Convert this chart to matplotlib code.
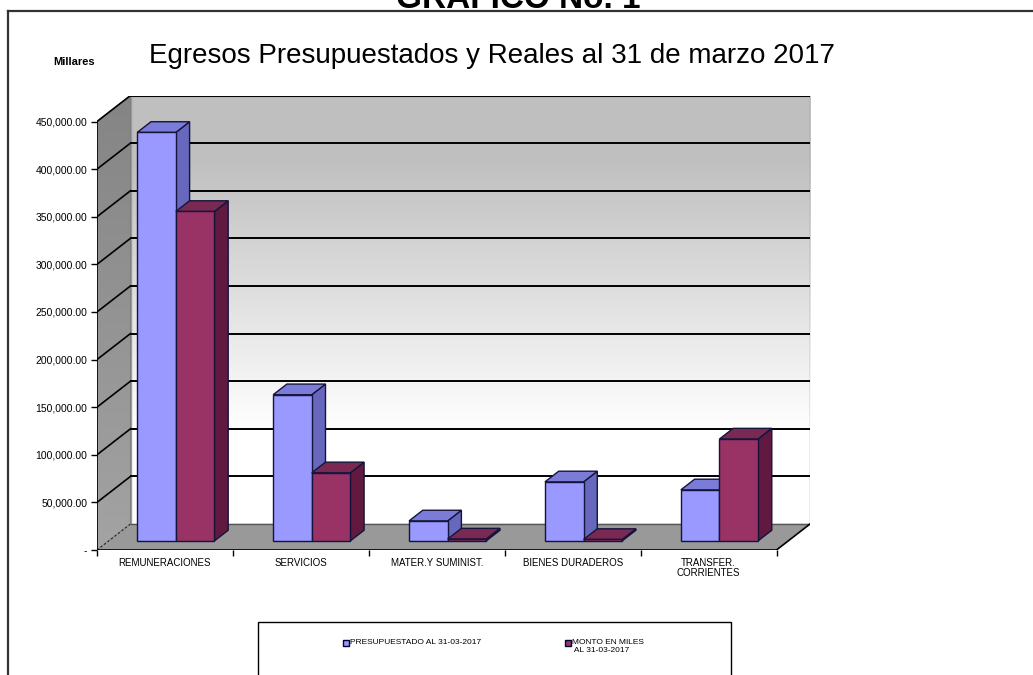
import numpy as np
import matplotlib
matplotlib.use('Agg')
import matplotlib.pyplot as plt
from matplotlib.patches import Polygon, Rectangle
from matplotlib.lines import Line2D

# ---------------- data ----------------
categories = ["REMUNERACIONES", "SERVICIOS", "MATER.Y SUMINIST.",
              "BIENES DURADEROS", "TRANSFER.\nCORRIENTES"]
presupuestado = [429000, 153500, 21000, 62000, 53600]
monto_real = [346000, 71500, 2000, 1500, 107000]
series_labels = ["PRESUPUESTADO AL 31-03-2017", "MONTO EN MILES\n AL 31-03-2017"]
y_ticks = list(range(0, 450001, 50000))
y_tick_labels = ["-" if v == 0 else f"{v:,.2f}" for v in y_ticks]
title = "Egresos Presupuestados y Reales al 31 de marzo 2017"
header = "GRAFICO No. 1"
unit_label = "Millares"

plt.rcParams['font.family'] = ['Liberation Sans', 'DejaVu Sans']

W, H = 1033, 675
fig = plt.figure(figsize=(W / 100, H / 100), dpi=100)
fig.patch.set_facecolor('white')

# geometry of the oblique 3D box (pixel based)
N = len(categories)
YMAX = y_ticks[-1]
px_cat = 135.9
px_val = 428.5 / YMAX
DX = 33.5 / px_cat
DY = 26.0 / px_val
ax = fig.add_axes([97 / W, 1 - 550 / H, (N * px_cat + 33.5) / W, (428.5 + 26) / H])
ax.set_xlim(0, N + DX)
ax.set_ylim(0, YMAX + DY)
for s in ax.spines.values():
    s.set_visible(False)
ax.set_facecolor('none')

# back wall gradient
t = np.linspace(0, 1, 256)
g = np.clip((t - 0.22) / (0.85 - 0.22), 0, 1)
shade = 1.0 - g * (1.0 - 0.75)
img = np.dstack([shade, shade, shade])[:, None, :].reshape(256, 1, 3)
ax.imshow(img, extent=[DX, N + DX, DY, YMAX + DY], origin='lower',
          aspect='auto', zorder=1, interpolation='bilinear')
ax.add_patch(Rectangle((DX, DY), N, YMAX, fill=False, ec='#9a9a9a', lw=1, zorder=1.5))

# left side wall
lw_poly = Polygon([(0, 0), (DX, DY), (DX, YMAX + DY), (0, YMAX)], closed=True,
                  fc='none', ec='#7a7a7a', lw=0.8, zorder=1.2)
ax.add_patch(lw_poly)
side_shade = np.linspace(0.64, 0.52, 256)
simg = np.dstack([side_shade] * 3).reshape(256, 1, 3)
im2 = ax.imshow(simg, extent=[0, DX, 0, YMAX + DY], origin='lower',
                aspect='auto', zorder=1.1, interpolation='bilinear')
im2.set_clip_path(lw_poly)

# floor
ax.add_patch(Polygon([(0, 0), (N, 0), (N + DX, DY), (DX, DY)], closed=True,
                     fc='#999999', ec='none', zorder=2))
ax.plot([DX, N + DX], [DY, DY], color='#555555', lw=1, zorder=2.1)
ax.plot([0, DX], [0, DY], color='#222222', lw=0.8, ls=(0, (2, 2)), zorder=2.2)

# gridlines on the walls
for v in y_ticks[1:]:
    ax.plot([0, DX], [v, v + DY], color='black', lw=1.2, zorder=1.6)
    ax.plot([DX, N + DX], [v + DY, v + DY], color='black', lw=1.4, zorder=1.6)

# axis lines
ax.plot([0, 0], [0, YMAX], color='black', lw=1.2, zorder=6)
ax.plot([0, N], [0, 0], color='black', lw=1.2, zorder=6)
ax.plot([N, N + DX], [0, DY], color='black', lw=1.2, zorder=6)

# bars
Z0, DZ = 0.35, 0.41
OFF, BW = 0.21, 0.284
edge = '#14143c'
styles = [('#9999ff', '#7b7bd8', '#6767bd'), ('#993366', '#7a2952', '#62193f')]
z = 3
for i in range(N):
    for k, vals in enumerate([presupuestado, monto_real]):
        v = vals[i]
        front_c, top_c, side_c = styles[k]
        fx = i + OFF + k * BW + Z0 * DX
        fy = Z0 * DY
        bdx, bdy = DZ * DX, DZ * DY
        ax.add_patch(Polygon([(fx + BW, fy), (fx + BW + bdx, fy + bdy),
                              (fx + BW + bdx, fy + v + bdy), (fx + BW, fy + v)],
                             closed=True, fc=side_c, ec=edge, lw=1, zorder=z))
        ax.add_patch(Polygon([(fx, fy + v), (fx + BW, fy + v),
                              (fx + BW + bdx, fy + v + bdy), (fx + bdx, fy + v + bdy)],
                             closed=True, fc=top_c, ec=edge, lw=1, zorder=z))
        ax.add_patch(Rectangle((fx, fy), BW, v, fc=front_c, ec=edge, lw=1, zorder=z + 0.5))
        z += 1

# ticks
ax.set_yticks(y_ticks, labels=y_tick_labels)
ax.tick_params(axis='y', direction='out', length=4, width=1, labelsize=7.5, pad=3,
               colors='black')
ax.set_xticks(range(N + 1), labels=[''] * (N + 1))
ax.set_xticks(np.arange(N) + 0.5, labels=categories, minor=True)
ax.tick_params(axis='x', which='major', direction='out', length=4, width=1)
ax.tick_params(axis='x', which='minor', length=0, labelsize=7, pad=6)
for lab in ax.get_xticklabels(minor=True):
    lab.set_linespacing(1.0)

# texts
fig.text(492 / W, 1 - 63 / H, title, ha='center', va='baseline', fontsize=20)
fig.text(74 / W, 1 - 65 / H, unit_label, ha='center', va='baseline',
         fontsize=8, fontweight='bold')
fig.text(518 / W, 1 - 8 / H, header, ha='center', va='baseline',
         fontsize=24, fontweight='bold')

# frame lines
fig.add_artist(Line2D([8 / W, 1], [1 - 11 / H, 1 - 11 / H], color='#333333', lw=1.6))
fig.add_artist(Line2D([8 / W, 8 / W], [0, 1 - 11 / H], color='#333333', lw=1.6))

# legend (manual, cut by figure bottom)
fig.add_artist(Rectangle((258 / W, -0.05), (731 - 258) / W, 0.05 + 1 - 622 / H,
                         transform=fig.transFigure, fill=False, ec='black', lw=1))
leg_x = [346, 568]
for k, lab in enumerate(series_labels):
    fig.add_artist(Line2D([leg_x[k] / W], [1 - 643 / H], marker='s', markersize=4,
                          mfc=styles[k][0], mec='#000033', mew=1, ls='none'))
    fig.text((leg_x[k] + 4) / W, 1 - 639 / H, lab, ha='left', va='top',
             fontsize=6, linespacing=1.15)

fig.savefig('out.png', dpi=100)
